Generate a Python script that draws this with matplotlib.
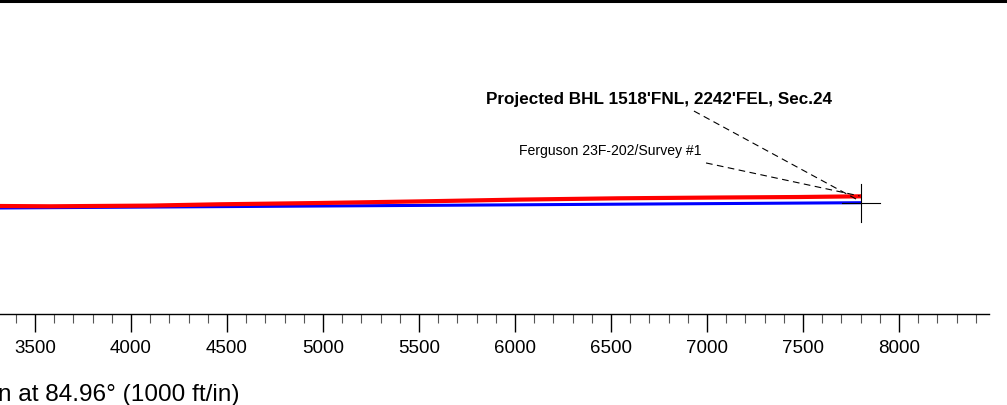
import matplotlib
matplotlib.use("Agg")
import matplotlib.pyplot as plt
from matplotlib.lines import Line2D

plt.rcParams['font.family'] = ['Liberation Sans', 'DejaVu Sans']

# vertical section (ft) and TVD (ft)
plan_vs = [3200, 7803]
plan_tvd = [9628.2, 9600.0]

survey_vs = [3200, 3318, 3578, 4098, 4461, 4981, 5501, 6021, 6540, 7060, 7476, 7803]
survey_tvd = [9616.5, 9617.2, 9618.7, 9615.1, 9608.3, 9601.6, 9593.2, 9583.9,
              9577.1, 9573.0, 9570.4, 9566.7]

major_ticks = [3500, 4000, 4500, 5000, 5500, 6000, 6500, 7000, 7500, 8000]
minor_ticks = [v for v in range(3400, 8500, 100) if v % 500 != 0]

target_vs, target_tvd = 7803, 9600.0
bhl_label = "Projected BHL 1518'FNL, 2242'FEL, Sec.24"
well_label = "Ferguson 23F-202/Survey #1"
xlabel = "Vertical Section at 84.96\u00b0 (1000 ft/in)"

fig = plt.figure(figsize=(10.07, 4.06), dpi=100)
ax = fig.add_axes([0, 0, 1, 1])
ax.set_xlim(3317.7, 8562.5)
ax.set_ylim(10653.6, 8539.1)

ax.plot(plan_vs, plan_tvd, color='#0000ff', lw=2.2, solid_capstyle='butt')
ax.plot(survey_vs, survey_tvd, color='#ff0000', lw=3.0, solid_capstyle='butt')

# target crosshair
ax.plot([target_vs - 100, target_vs + 100], [target_tvd, target_tvd], color='black', lw=0.8)
ax.plot([target_vs, target_vs], [target_tvd - 100, target_tvd + 100], color='black', lw=0.8)

# labels with dashed leaders
ax.text(5849, 9080.7, bhl_label, fontsize=12.3, fontweight='bold', ha='left', va='baseline')
ax.plot([6932, 7795], [9122.6, 9591], color='black', lw=0.8, ls=(0, (6, 4)))
ax.text(6021, 9346.4, well_label, fontsize=10.1, ha='left', va='baseline')
ax.plot([6995, 7795], [9393, 9565], color='black', lw=0.8, ls=(0, (6, 4)))

# bottom axis
for s in ['top', 'left', 'right']:
    ax.spines[s].set_visible(False)
ax.spines['bottom'].set_position(('data', 10179.7))
ax.spines['bottom'].set_bounds(3317.7, 8468)
ax.spines['bottom'].set_linewidth(1.0)
ax.set_xticks(major_ticks)
ax.set_xticks(minor_ticks, minor=True)
ax.tick_params(axis='x', which='major', direction='out', length=13, width=1.0, pad=5, labelsize=13.5)
ax.tick_params(axis='x', which='minor', direction='out', length=6.5, width=0.8, color='#555555')
ax.set_yticks([])

fig.text(240 / 1007, 1 - 395 / 406, xlabel, fontsize=17.6, ha='right', va='center')

# frame edge at top
fig.add_artist(Line2D([0, 1], [1 - 2 / 406, 1 - 2 / 406], color='black', lw=2.2,
                      transform=fig.transFigure))

fig.savefig('out.png', dpi=100)
